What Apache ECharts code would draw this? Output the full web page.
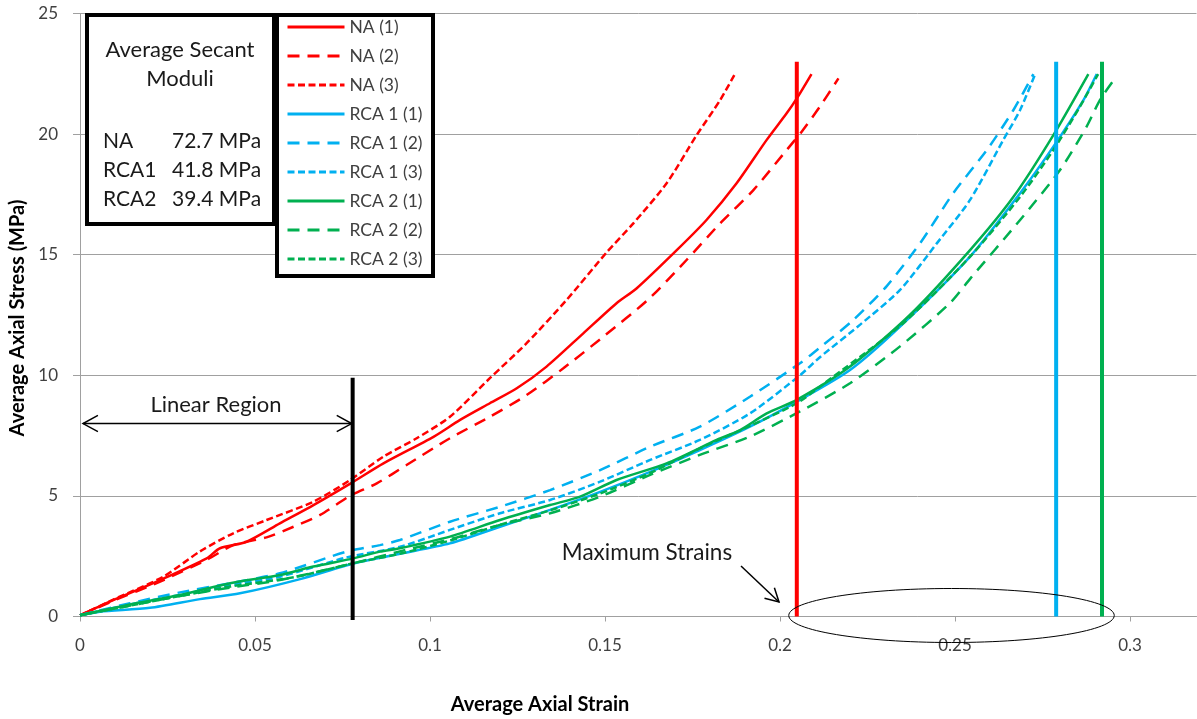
<!DOCTYPE html>
<html><head><meta charset="utf-8">
<script src="https://cdn.jsdelivr.net/npm/echarts@6/dist/echarts.min.js"></script>
<style>html,body{margin:0;padding:0;background:#fff}#c{width:1197px;height:719px}</style>
</head><body><div id="c"></div>
<script>
// ---- data (strain, stress) ----
const seriesNames = ['NA (1)','NA (2)','NA (3)','RCA 1 (1)','RCA 1 (2)','RCA 1 (3)','RCA 2 (1)','RCA 2 (2)','RCA 2 (3)'];
const na1 = [[0,0.05],[0.0095,0.68],[0.0229,1.51],[0.0362,2.41],[0.04,2.83],[0.0476,3.1],[0.0571,3.86],[0.0667,4.62],[0.0771,5.5],[0.0867,6.35],[0.101,7.45],[0.1086,8.15],[0.1171,8.84],[0.1248,9.46],[0.1333,10.36],[0.1438,11.74],[0.1533,12.99],[0.159,13.6],[0.1705,15.19],[0.179,16.44],[0.1876,17.96],[0.1962,19.76],[0.2019,20.86],[0.2048,21.48],[0.209,22.49]];
const na2 = [[0,0.05],[0.0095,0.65],[0.0229,1.45],[0.0362,2.35],[0.0438,2.96],[0.0533,3.28],[0.061,3.72],[0.0686,4.21],[0.0771,5.0],[0.0848,5.52],[0.0933,6.28],[0.1057,7.39],[0.1171,8.28],[0.1276,9.18],[0.1381,10.29],[0.1495,11.6],[0.1624,13.15],[0.1733,14.78],[0.1829,16.3],[0.1924,17.68],[0.2019,19.34],[0.2062,20.1],[0.2114,21.14],[0.2167,22.31]];
const na3 = [[0,0.05],[0.0095,0.7],[0.0238,1.65],[0.0343,2.7],[0.0438,3.45],[0.0533,4.0],[0.0667,4.76],[0.0771,5.65],[0.0867,6.63],[0.0962,7.39],[0.1057,8.28],[0.1171,9.88],[0.1276,11.33],[0.139,13.12],[0.1505,15.1],[0.1581,16.3],[0.1676,17.96],[0.1762,19.96],[0.1829,21.41],[0.1871,22.49]];
const rca1a = [[0,0.05],[0.0057,0.2],[0.02,0.36],[0.0343,0.72],[0.0457,0.96],[0.0629,1.55],[0.0781,2.2],[0.0914,2.6],[0.1057,3.03],[0.12,3.72],[0.1343,4.42],[0.1486,5.17],[0.1629,6.0],[0.1771,6.9],[0.1914,7.87],[0.2048,8.91],[0.22,10.22],[0.2343,12.02],[0.2543,14.92],[0.2686,17.55],[0.2781,19.48],[0.2867,21.41],[0.2905,22.49]];
const rca1b = [[0,0.05],[0.0143,0.55],[0.0286,1.0],[0.0429,1.38],[0.0571,1.79],[0.0762,2.69],[0.0857,2.96],[0.0914,3.17],[0.1057,3.93],[0.12,4.55],[0.1343,5.24],[0.1486,6.07],[0.1629,7.04],[0.1771,7.87],[0.1914,9.11],[0.2057,10.5],[0.2114,11.15],[0.221,12.3],[0.2305,13.7],[0.24,15.47],[0.2495,17.55],[0.2591,19.34],[0.2667,21.0],[0.2724,22.49]];
const rca1c = [[0,0.05],[0.0143,0.5],[0.0286,0.9],[0.0429,1.3],[0.0571,1.65],[0.0762,2.45],[0.0914,2.89],[0.1057,3.59],[0.12,4.28],[0.1343,4.83],[0.1486,5.59],[0.1629,6.49],[0.1771,7.32],[0.1914,8.42],[0.2057,10.0],[0.2114,10.75],[0.2229,12.1],[0.2343,13.54],[0.2448,15.47],[0.2543,17.27],[0.2638,19.76],[0.2686,21.0],[0.2729,22.49]];
const rca2a = [[0,0.05],[0.0143,0.5],[0.0286,0.89],[0.0429,1.38],[0.0571,1.72],[0.0667,2.07],[0.0781,2.41],[0.0857,2.69],[0.0914,2.83],[0.1057,3.31],[0.12,4.0],[0.1343,4.62],[0.1429,4.97],[0.1533,5.66],[0.1676,6.35],[0.1819,7.32],[0.1886,7.73],[0.1962,8.42],[0.2048,8.98],[0.22,10.36],[0.2371,12.5],[0.2543,15.19],[0.2667,17.4],[0.2781,19.96],[0.2881,22.49]];
const rca2b = [[0,0.05],[0.0143,0.45],[0.0286,0.85],[0.0429,1.2],[0.0571,1.51],[0.0781,2.21],[0.0914,2.7],[0.1057,3.2],[0.12,3.8],[0.1343,4.28],[0.1486,4.97],[0.1629,5.87],[0.1771,6.7],[0.1914,7.46],[0.2057,8.5],[0.22,9.67],[0.2343,11.2],[0.2486,13.0],[0.2543,14.0],[0.2686,16.44],[0.28,18.51],[0.2876,20.31],[0.2914,21.41],[0.2957,22.31]];
const rca2c = [[0,0.05],[0.0143,0.45],[0.0286,0.85],[0.0429,1.24],[0.0619,1.65],[0.0781,2.21],[0.0914,2.6],[0.1057,3.15],[0.12,3.8],[0.1343,4.4],[0.1486,5.1],[0.1629,5.95],[0.1771,6.97],[0.1914,7.9],[0.2048,8.84],[0.2114,9.53],[0.2352,12.16],[0.2543,14.92],[0.2686,17.4],[0.2781,19.34],[0.2857,21.14],[0.2909,22.49]];
// maximum strain markers (strain) and their height (stress)
const maxStrainNA = 0.2048, maxStrainRCA1 = 0.2789, maxStrainRCA2 = 0.2920, maxStrainTop = 23;
// linear region limit
const linearLimit = 0.0779, linearTop = 9.9, linearArrowY = 8;
const moduli = [['NA','72.7 MPa'],['RCA1','41.8 MPa'],['RCA2','39.4 MPa']];
const xMin = 0, xMax = 0.319, xStep = 0.05, yMin = 0, yMax = 25, yStep = 5;

const RED = '#FF0000', BLUE = '#00B0F0', GREEN = '#00B050';
const LONG = [12, 8], SHORT = [7, 3.5];
const F = 'Lato';

const chart = echarts.init(document.getElementById('c'), null, {renderer: 'canvas'});
function curve(name, data, color, type) {
  return {name, type: 'line', data, showSymbol: false, symbol: 'none', z: 2, smooth: 0.25,
    lineStyle: {color, width: 2.5, type}, itemStyle: {color}, emphasis: {disabled: true}};
}
function vline(name, x, top, color, bottom) {
  return {name, type: 'line', data: [[x, bottom], [x, top]], showSymbol: false, symbol: 'none', z: 3,
    clip: false, lineStyle: {color, width: 4}, emphasis: {disabled: true}};
}
const gridLeft = 80, gridWidth = xMax * 3500;
const opt = {
  animation: false,
  backgroundColor: '#fff',
  grid: {left: gridLeft, top: 616.5 - 25 * 24.12, bottom: 719 - 616.5, right: 1197 - (gridLeft + gridWidth), containLabel: false},
  xAxis: {type: 'value', min: xMin, max: xMax, interval: xStep,
    axisLine: {lineStyle: {color: '#a0a0a0', width: 1}},
    axisTick: {show: true, length: 5, lineStyle: {color: '#a0a0a0'}},
    axisLabel: {color: '#404040', fontSize: 17, fontFamily: F, margin: 21, showMaxLabel: false},
    splitLine: {show: false}},
  yAxis: {type: 'value', min: yMin, max: yMax, interval: yStep,
    axisLine: {show: true, lineStyle: {color: '#a0a0a0', width: 1}},
    axisTick: {show: true, length: 7, lineStyle: {color: '#a0a0a0'}},
    axisLabel: {color: '#404040', fontSize: 17, fontFamily: F, margin: 22},
    splitLine: {show: true, lineStyle: {color: '#a0a0a0', width: 1}}},
  legend: {orient: 'vertical', left: 286, top: 17, itemWidth: 57, itemHeight: 20, itemGap: 9, padding: 0, z: 10,
    data: seriesNames, selectedMode: false,
    itemStyle: {opacity: 0, color: 'rgba(0,0,0,0)', borderWidth: 0},
    lineStyle: {width: 3},
    textStyle: {fontSize: 17.5, color: '#404040', fontFamily: F, lineHeight: 20}},
  series: [
    curve(seriesNames[0], na1, RED, 'solid'),
    curve(seriesNames[1], na2, RED, LONG),
    curve(seriesNames[2], na3, RED, SHORT),
    curve(seriesNames[3], rca1a, BLUE, 'solid'),
    curve(seriesNames[4], rca1b, BLUE, LONG),
    curve(seriesNames[5], rca1c, BLUE, SHORT),
    curve(seriesNames[6], rca2a, GREEN, 'solid'),
    curve(seriesNames[7], rca2b, GREEN, LONG),
    curve(seriesNames[8], rca2c, GREEN, SHORT),
    vline('maxNA', maxStrainNA, maxStrainTop, RED, 0),
    vline('maxRCA1', maxStrainRCA1, maxStrainTop, BLUE, 0),
    vline('maxRCA2', maxStrainRCA2, maxStrainTop, GREEN, 0),
    vline('linear', linearLimit, linearTop, '#000', -0.15)
  ]
};
chart.setOption(opt);

const P = (x, y) => chart.convertToPixel({gridIndex: 0}, [x, y]);
function chevron(tip, dx, dy, len, ang) {
  const a = Math.atan2(dy, dx);
  const p1 = [tip[0] - len * Math.cos(a - ang), tip[1] - len * Math.sin(a - ang)];
  const p2 = [tip[0] - len * Math.cos(a + ang), tip[1] - len * Math.sin(a + ang)];
  return {type: 'polyline', z: 20, shape: {points: [p1, tip, p2]}, style: {stroke: '#000', lineWidth: 1.5, fill: null}};
}
const a0 = P(0, linearArrowY), a1 = P(linearLimit, linearArrowY);
const L = [a0[0] + 3, a0[1]], R = [a1[0] - 1, a1[1]];
const e0 = P(0.2025, 0), e1 = P(0.2955, 0);
const m0 = [741, 566], m1 = [779, 602];
const txt = (x, y, text, size, align, extra) => ({type: 'text', z: 20, x, y,
  style: Object.assign({text, fontSize: size, fontFamily: F, fill: '#1a1a1a', align: align || 'center', verticalAlign: 'middle'}, extra || {})});
const graphics = [
  {type: 'rect', z: 5, shape: {x: 87, y: 15, width: 187, height: 209}, style: {fill: '#fff', stroke: '#000', lineWidth: 4}},
  {type: 'rect', z: 5, shape: {x: 277, y: 15, width: 156, height: 261}, style: {fill: '#fff', stroke: '#000', lineWidth: 4}},
  txt(180, 50, 'Average Secant', 22),
  txt(180, 79, 'Moduli', 22),
  {type: 'line', z: 20, shape: {x1: L[0], y1: L[1], x2: R[0], y2: R[1]}, style: {stroke: '#000', lineWidth: 1.5}},
  chevron(L, -1, 0, 17, 0.5), chevron(R, 1, 0, 17, 0.5),
  txt(216, 405, 'Linear Region', 22),
  txt(647, 553, 'Maximum Strains', 22.5),
  {type: 'line', z: 20, shape: {x1: m0[0], y1: m0[1], x2: m1[0], y2: m1[1]}, style: {stroke: '#000', lineWidth: 1.5}},
  chevron(m1, m1[0] - m0[0], m1[1] - m0[1], 15, 0.5),
  {type: 'ellipse', z: 20, shape: {cx: (e0[0] + e1[0]) / 2, cy: e0[1] - 1, rx: (e1[0] - e0[0]) / 2, ry: 27}, style: {fill: null, stroke: '#000', lineWidth: 1}},
  txt(540, 705, 'Average Axial Strain', 20, 'center', {fontWeight: 'bold', fill: '#000'}),
  {type: 'text', z: 20, x: 18, y: 318, rotation: Math.PI / 2,
    style: {text: 'Average Axial Stress (MPa)', fontSize: 20, fontWeight: 'bold', fontFamily: F, fill: '#000', align: 'center', verticalAlign: 'middle'}}
];
moduli.forEach((m, i) => {
  graphics.push(txt(103, 141 + i * 29, m[0], 21, 'left'));
  graphics.push(txt(172, 141 + i * 29, m[1], 21, 'left'));
});
chart.setOption({graphic: graphics});
</script></body></html>
